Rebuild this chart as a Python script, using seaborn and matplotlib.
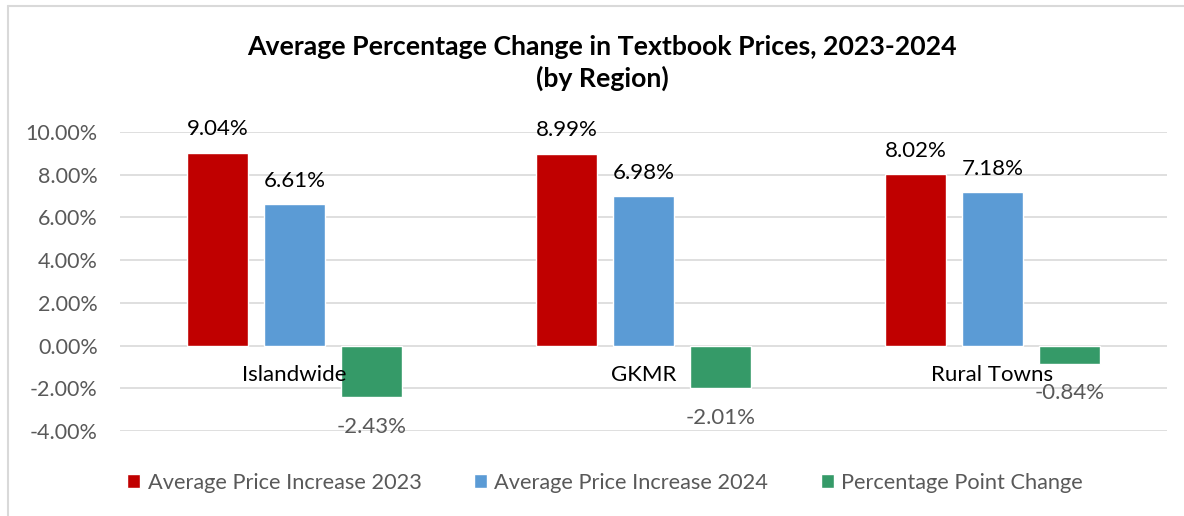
import pandas as pd
import matplotlib.pyplot as plt
from matplotlib.lines import Line2D
import seaborn as sns

# Chart data
regions = ["Islandwide", "GKMR", "Rural Towns"]
series = ["Average Price Increase 2023", "Average Price Increase 2024", "Percentage Point Change"]
increase_2023 = [9.04, 8.99, 8.02]
increase_2024 = [6.61, 6.98, 7.18]
point_change = [-2.43, -2.01, -0.84]
colors = ["#C00000", "#5B9BD5", "#359A68"]

df = pd.DataFrame({
    "Region": regions * 3,
    "Series": [series[0]] * 3 + [series[1]] * 3 + [series[2]] * 3,
    "Value": increase_2023 + increase_2024 + point_change,
})

sns.set_theme(style="white")
plt.rcParams["font.family"] = ["Lato", "DejaVu Sans"]

fig = plt.figure(figsize=(11.84, 5.16), dpi=100)
ax = fig.add_axes([120 / 1184, 1 - 431 / 516, 1047 / 1184, 299 / 516])

sns.barplot(data=df, x="Region", y="Value", hue="Series", palette=colors, saturation=1,
            width=0.662, gap=0.21, ax=ax, legend=True, zorder=3)

ax.set_ylim(-4, 10)
ax.set_xlim(-0.5, 2.5)
ax.set_yticks(range(-4, 11, 2))
ax.set_yticklabels([f"{v:.2f}%" for v in range(-4, 11, 2)], fontsize=15.5, color="#595959")
ax.tick_params(axis="y", length=0, pad=16)
ax.yaxis.grid(True, color="#D9D9D9", linewidth=1.2)
ax.yaxis.set_zorder(0)
ax.set_xlabel("")
ax.set_ylabel("")
for s in ax.spines.values():
    s.set_visible(False)

# category labels sit just under the zero line, drawn over the bars
ax.spines["bottom"].set_position(("data", 0))
ax.tick_params(axis="x", length=0, pad=14, labelsize=16, labelcolor="#000000")
ax.xaxis.set_zorder(5)

# data labels
for container in ax.containers:
    for bar in container:
        v = bar.get_height()
        x = bar.get_x() + bar.get_width() / 2
        if v >= 0:
            ax.annotate(f"{v:.2f}%", (x, v), xytext=(0, 17), textcoords="offset points",
                        ha="center", va="center", fontsize=16, color="#000000")
        else:
            ax.annotate(f"{v:.2f}%", (x, v), xytext=(0, -21), textcoords="offset points",
                        ha="center", va="center", fontsize=16, color="#595959")

# legend at the bottom
handles, labels = ax.get_legend_handles_labels()
ax.get_legend().remove()
fig.legend(handles, labels, loc="center", bbox_to_anchor=(605 / 1184, 1 - 483 / 516), ncol=3,
           frameon=False, fontsize=15.7, handlelength=0.6, handleheight=0.6,
           handletextpad=0.35, columnspacing=2.4, labelcolor="#595959")

fig.suptitle("Average Percentage Change in Textbook Prices, 2023-2024\n(by Region)",
             x=602 / 1184, y=1 - 35 / 516, va="top", fontsize=19.2, fontweight="bold",
             color="#000000", linespacing=1.32)

# light chart border
fig.add_artist(Line2D([8 / 1184, 8 / 1184], [0, 1 - 6 / 516], transform=fig.transFigure,
                      color="#D9D9D9", linewidth=1.5))
fig.add_artist(Line2D([8 / 1184, 1], [1 - 6 / 516, 1 - 6 / 516], transform=fig.transFigure,
                      color="#D9D9D9", linewidth=1.5))

fig.savefig("out.png", dpi=100)
